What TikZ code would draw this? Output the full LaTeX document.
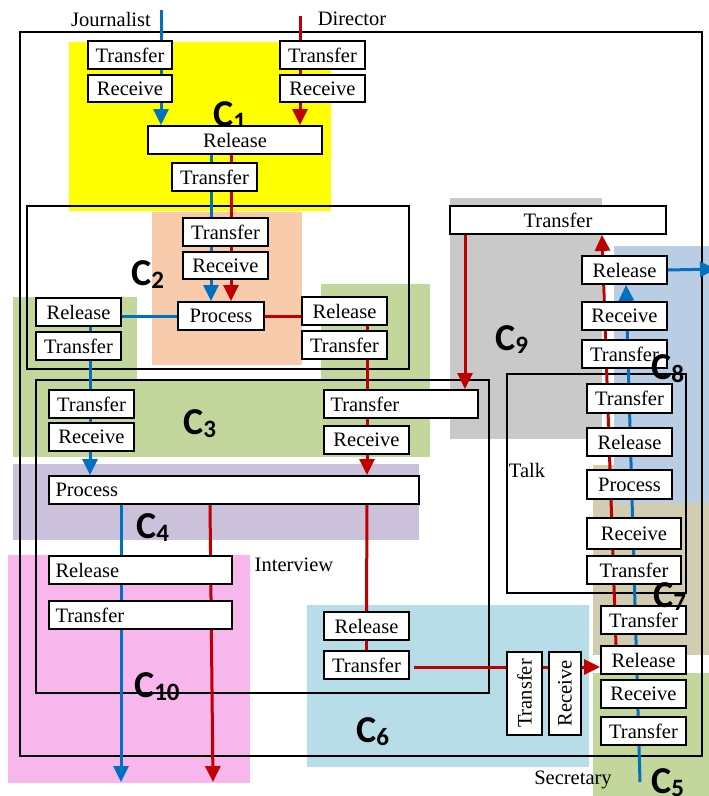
\documentclass[tikz,border=0pt]{standalone}
\usepackage{fontspec}
\setmainfont{Liberation Serif}
\newfontfamily\clabfont{Carlito}
\usetikzlibrary{arrows.meta}
\definecolor{blueL}{HTML}{0070C0}
\definecolor{redL}{HTML}{C00000}
\definecolor{cyel}{HTML}{FFFF00}
\definecolor{corg}{HTML}{F8CBAD}
\definecolor{cgrn}{HTML}{C3D69B}
\definecolor{cpur}{HTML}{CCC1DA}
\definecolor{cpnk}{HTML}{F7B7EC}
\definecolor{ccyn}{HTML}{B7DEE8}
\definecolor{cgry}{HTML}{C9C9C9}
\definecolor{cbei}{HTML}{D2CDB1}
\definecolor{cblu}{HTML}{B9CDE5}
\newcommand\csubx[1]{C\raisebox{-3pt}{\fontsize{25}{25}\selectfont #1}}
\pgfdeclarelayer{bg}
\pgfdeclarelayer{lines}
\pgfsetlayers{bg,lines,main}
\begin{document}
\begin{tikzpicture}[x=1pt,y=-1pt,
  box/.style={draw=black, line width=1.8pt, fill=white, inner sep=0pt,
    minimum width=85pt, minimum height=28pt, font=\fontsize{20.5}{22}\selectfont},
  lab/.style={inner sep=0pt, font=\fontsize{20.5}{22}\selectfont},
  clab/.style={anchor=base west, inner sep=0pt, font=\clabfont\bfseries\fontsize{38}{38}\selectfont},
  outl/.style={draw=black, line width=1.6pt},
  bl/.style={draw=blueL, line width=3pt},
  rd/.style={draw=redL, line width=3pt},
  arr/.style={-{Triangle[length=16pt,width=15pt]}}]
\useasboundingbox (0,0) rectangle (709,796);
\begin{pgfonlayer}{bg}
\fill[white] (0,0) rectangle (709,796);
% coloured regions
\fill[cyel] (69,42) rectangle (331,211);
\fill[corg] (152,212) rectangle (302,365);
\fill[cgrn] (13,297) rectangle (137,381);
\fill[cgrn] (321,284) rectangle (430,381);
\fill[cgrn] (13,379) rectangle (430,457);
\fill[cpur] (13,464) rectangle (419,540);
\fill[cpnk] (8,555) rectangle (250,783);
\fill[ccyn] (307,605) rectangle (589,767);
\fill[cgry] (450,198) rectangle (602,439);
\fill[cbei] (593,465) rectangle (709,655);
\fill[cblu] (614,246) rectangle (709,503);
\fill[cgrn] (593,673) rectangle (709,796);
% outline boxes
\draw[outl] (20,32) rectangle (702,756);
\draw[outl] (27,206) rectangle (409,369);
\draw[outl] (36,380) rectangle (489,693);
\draw[outl] (507,374) rectangle (686,593);
\end{pgfonlayer}

% boxes
\node[box, minimum width=84pt] (jT) at (130,55) {Transfer};
\node[box, minimum width=84pt, minimum height=27pt] (jR) at (130,88.5) {Receive};
\node[box] (dT) at (322.5,55) {Transfer};
\node[box, minimum height=27pt] (dR) at (322.5,88.5) {Receive};
\node[box, minimum width=174pt] (rel1) at (235,140) {Release};
\node[box] (tr1) at (214.5,177) {Transfer};

\node[box] (tr2) at (225.5,232) {Transfer};
\node[box, minimum height=27pt] (rc2) at (225.5,265.5) {Receive};
\node[box, minimum width=86pt] (pr2) at (221,316) {Process};
\node[box] (relL) at (78.5,312) {Release};
\node[box] (trL) at (78.5,346) {Transfer};
\node[box] (relR) at (344.5,311) {Release};
\node[box] (trR) at (344.5,345) {Transfer};

\node[box] (trL3) at (91.5,404) {Transfer};
\node[box] (rcL3) at (91.5,437) {Receive};
\node[box, minimum width=154pt, text width=141pt, align=left] (trR3) at (401,404) {Transfer};
\node[box] (rcR3) at (366.5,440) {Receive};

\node[box, minimum width=370pt, text width=357pt, align=left] (pr4) at (234,490) {Process};

\node[box, minimum width=183pt, text width=170pt, align=left] (rel10) at (140.5,570) {Release};
\node[box, minimum width=183pt, text width=170pt, align=left] (tr10) at (140.5,615) {Transfer};

\node[box] (rel6) at (366.5,626) {Release};
\node[box] (tr6) at (366.5,665) {Transfer};
\node[box, minimum width=35pt, minimum height=83pt] (vT) at (524.5,693.5) {\rotatebox{90}{Transfer}};
\node[box, minimum width=32pt, minimum height=83pt] (vR) at (565,693.5) {\rotatebox{90}{Receive}};

\node[box, minimum width=216pt] (trTop) at (558,220) {Transfer};
\node[box] (rel8) at (624.5,270) {Release};
\node[box] (rc8) at (624.5,316) {Receive};
\node[box] (tr8) at (624.5,354) {Transfer};
\node[box, minimum height=29pt] (tr7a) at (629.5,398.5) {Transfer};
\node[box] (rel7) at (629.5,442) {Release};
\node[box, minimum height=29pt] (pr7) at (629.5,484.5) {Process};
\node[box, minimum width=94pt, minimum height=31pt] (rc7) at (634,533.5) {Receive};
\node[box, minimum width=94pt] (tr7b) at (634,570) {Transfer};
\node[box] (tr5a) at (643.5,620) {Transfer};
\node[box] (rel5) at (643.5,660) {Release};
\node[box] (rc5) at (643.5,694) {Receive};
\node[box] (tr5b) at (643.5,731) {Transfer};

% free ends
\coordinate (jsrc) at (161,10);
\coordinate (dsrc) at (300,16);
\coordinate (bEnd) at (121,782);
\coordinate (rEnd) at (213,782);
\coordinate (sEnd) at (640,782);
\coordinate (bOut) at (716,269);

\begin{pgfonlayer}{lines}
\draw[bl,arr] (jsrc) -- (jsrc |- rel1.north);
\draw[rd,arr] (dsrc) -- (dsrc |- rel1.north);
\draw[bl,arr] ([xshift=-24pt]rel1.south) -- ([xshift=-10pt]pr2.north);
\draw[rd,arr] ([xshift=-4pt]rel1.south) -- ([xshift=10pt]pr2.north);
\draw[bl] (pr2.west) -- (pr2.west -| relL.east);
\draw[rd] (pr2.east) -- (pr2.east -| relR.west);
\draw[bl,arr] ([xshift=11.5pt]relL.south) -- ([xshift=11.5pt]relL.south |- pr4.north);
\draw[rd,arr] ([xshift=22.5pt]relR.south) -- ([xshift=22.5pt]relR.south |- pr4.north);
\draw[rd,arr] ([xshift=-93pt]trTop.south) -- ([xshift=-93pt]trTop.south |- trR3.north);
\draw[bl,arr] ([xshift=-113pt]pr4.south) -- (bEnd);
\draw[rd,arr] ([xshift=-24pt]pr4.south) -- (rEnd);
\draw[rd] ([xshift=133pt]pr4.south) -- (rel6.north);
\draw[rd] (rel6.south) -- (tr6.north);
\draw[rd,arr] ([yshift=-2pt,xshift=4pt]tr6.east) -- ([yshift=-2pt]tr6.east -| rel5.west);
\draw[rd,arr] ([xshift=-27.5pt]rel5.north) -- ([xshift=44pt]trTop.south);
\draw[bl,arr] (sEnd) -- ([xshift=1.5pt]rel8.south);
\draw[bl,arr] (rel8.east) -- (bOut);
\node[clab] (c1) at (213,126) {\csubx{1}};
\end{pgfonlayer}

% text labels
\node[lab] (journ) at (111,19) {Journalist};
\node[lab] (dir) at (352,19) {Director};
\node[lab] (intv) at (294,565) {Interview};
\node[lab] (talk) at (527,470) {Talk};
\node[lab] (secr) at (573,780) {Secretary};

% C labels
\node[clab] (c2) at (131,285) {\csubx{2}};
\node[clab] (c3) at (183,434) {\csubx{3}};
\node[clab] (c4) at (136,538) {\csubx{4}};
\node[clab] (c10) at (134,697) {\csubx{10}};
\node[clab] (c6) at (356,742) {\csubx{6}};
\node[clab] (c9) at (495,350) {\csubx{9}};
\node[clab] (c8) at (651,379) {\csubx{8}};
\node[clab] (c7) at (653,607) {\csubx{7}};
\node[clab] (c5) at (651,793) {\csubx{5}};
\end{tikzpicture}
\end{document}
